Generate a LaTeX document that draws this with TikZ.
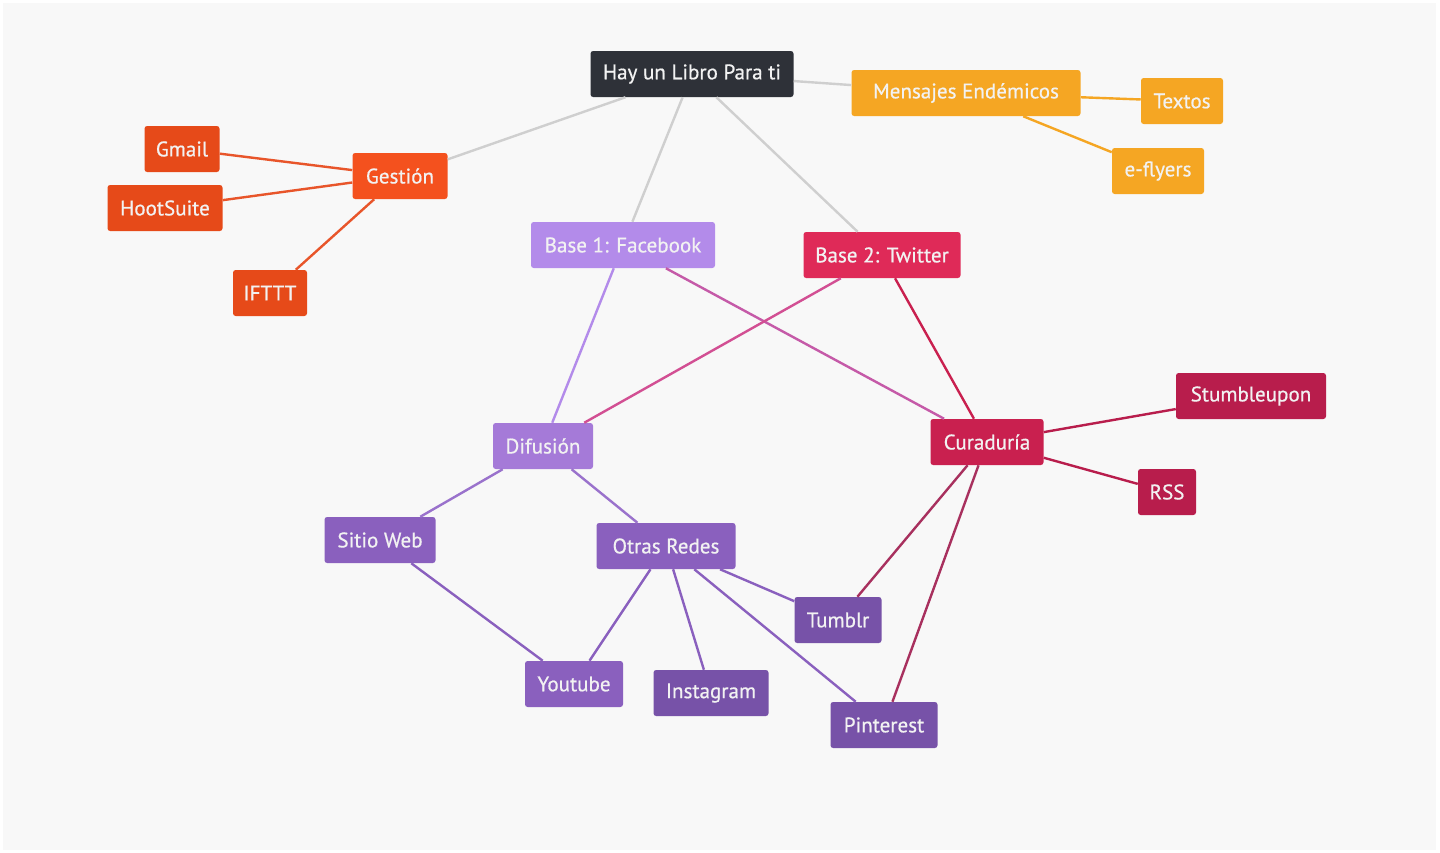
\documentclass[tikz,border=0pt]{standalone}
\usepackage{fontspec}
\setmainfont[FakeBold=0.6]{PT Sans}
\definecolor{cdark}{HTML}{2E3138}
\definecolor{corange}{HTML}{F5A623}
\definecolor{cgest}{HTML}{F4511E}
\definecolor{cgestc}{HTML}{E64A19}
\definecolor{cbaseone}{HTML}{B38BEA}
\definecolor{cbasetwo}{HTML}{DF2A58}
\definecolor{cdifu}{HTML}{A57AD8}
\definecolor{ccura}{HTML}{C9204F}
\definecolor{ccurac}{HTML}{B81D4C}
\definecolor{cpurp}{HTML}{8A60BE}
\definecolor{cpurpd}{HTML}{7752A8}
\definecolor{egray}{HTML}{CFCFCF}
\definecolor{eredor}{HTML}{E8552A}
\definecolor{ebfcur}{HTML}{C55AA8}
\definecolor{ebtdif}{HTML}{D24F93}
\definecolor{ecurp}{HTML}{A8305E}
\definecolor{edifc}{HTML}{9A72CC}
\definecolor{bggray}{HTML}{F8F8F8}
\tikzset{
  box/.style={rectangle, rounded corners=2pt, minimum height=34.5pt, inner sep=0pt,
    text=white!95!black, font=\fontsize{15.8}{18}\selectfont},
  bw/.style={minimum width=#1*0.75pt},
  edge/.style={line width=1.8pt, draw=#1},
}
\begin{document}
\begin{tikzpicture}[x=0.75pt,y=-0.75pt]
\fill[white] (0,0) rectangle (1440,853);
\fill[bggray] (3,3) rectangle (1436,850);
\useasboundingbox (0,0) rectangle (1440,853);
% nodes
\node[box,bw=203,fill=cdark] (hay) at (692,74) {Hay un Libro Para ti};
\node[box,bw=229,fill=corange] (mens) at (966,93) {Mensajes Endémicos};
\node[box,bw=82,fill=corange] (text) at (1182,101) {Textos};
\node[box,bw=92,fill=corange] (efly) at (1158,171) {e-flyers};
\node[box,bw=95,fill=cgest] (gest) at (400,176) {Gestión};
\node[box,bw=75,fill=cgestc] (gmail) at (182,149) {Gmail};
\node[box,bw=115,fill=cgestc] (hoot) at (165,208) {HootSuite};
\node[box,bw=74,fill=cgestc] (ifttt) at (270,293) {IFTTT};
\node[box,bw=184,fill=cbaseone] (base1) at (623,245) {Base 1: Facebook};
\node[box,bw=157,fill=cbasetwo] (base2) at (882,255) {Base 2: Twitter};
\node[box,bw=100,fill=cdifu] (difu) at (543,446) {Difusión};
\node[box,bw=113,fill=ccura] (cura) at (987,442) {Curaduría};
\node[box,bw=150,fill=ccurac] (stum) at (1251,396) {Stumbleupon};
\node[box,bw=58,fill=ccurac] (rss) at (1167,492) {RSS};
\node[box,bw=111,fill=cpurp] (sitio) at (380,540) {Sitio Web};
\node[box,bw=139,fill=cpurp] (otras) at (666,546) {Otras Redes};
\node[box,bw=87,fill=cpurpd] (tumb) at (838,620) {Tumblr};
\node[box,bw=98,fill=cpurp] (yout) at (574,684) {Youtube};
\node[box,bw=115,fill=cpurpd] (insta) at (711,693) {Instagram};
\node[box,bw=107,fill=cpurpd] (pint) at (884,725) {Pinterest};
% edges
\draw[edge=egray] (hay) -- (gest);
\draw[edge=egray] (hay) -- (mens);
\draw[edge=egray] (hay) -- (base1);
\draw[edge=egray] (hay) -- (base2);
\draw[edge=corange] (mens) -- (text);
\draw[edge=corange] (mens) -- (efly);
\draw[edge=eredor] (gest) -- (gmail);
\draw[edge=eredor] (gest) -- (hoot);
\draw[edge=eredor] (gest) -- (ifttt);
\draw[edge=cbaseone] (base1) -- (difu);
\draw[edge=ebfcur] (base1) -- (cura);
\draw[edge=ebtdif] (base2) -- (difu);
\draw[edge=ccura] (base2) -- (cura);
\draw[edge=ccurac] (cura) -- (stum);
\draw[edge=ccurac] (cura) -- (rss);
\draw[edge=ecurp] (cura) -- (tumb);
\draw[edge=ecurp] (cura) -- (pint);
\draw[edge=edifc] (difu) -- (sitio);
\draw[edge=edifc] (difu) -- (otras);
\draw[edge=cpurp] (sitio) -- (yout);
\draw[edge=cpurp] (otras) -- (yout);
\draw[edge=cpurp] (otras) -- (insta);
\draw[edge=cpurp] (otras) -- (tumb);
\draw[edge=cpurp] (otras) -- (pint);
\end{tikzpicture}
\end{document}
